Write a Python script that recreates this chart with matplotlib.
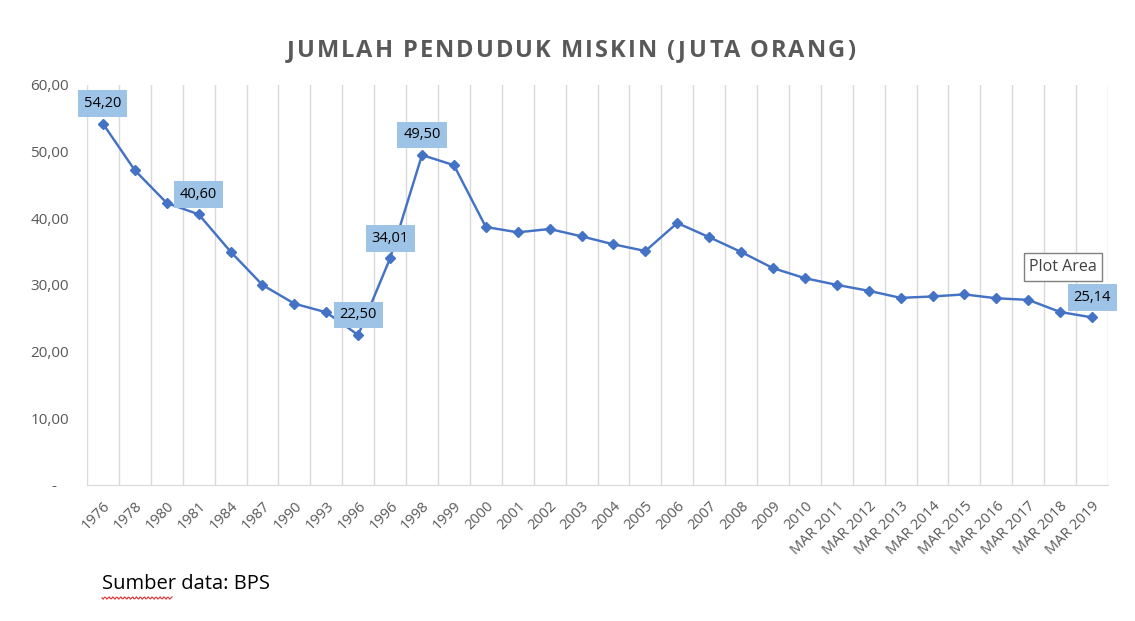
import matplotlib.pyplot as plt
import numpy as np

plt.rcParams['font.family'] = ['Open Sans', 'DejaVu Sans']

# data (BPS, juta orang)
years = ['1976', '1978', '1980', '1981', '1984', '1987', '1990', '1993', '1996', '1996',
         '1998', '1999', '2000', '2001', '2002', '2003', '2004', '2005', '2006', '2007',
         '2008', '2009', '2010', 'MAR 2011', 'MAR 2012', 'MAR 2013', 'MAR 2014',
         'MAR 2015', 'MAR 2016', 'MAR 2017', 'MAR 2018', 'MAR 2019']
miskin = [54.20, 47.20, 42.30, 40.60, 35.00, 30.00, 27.20, 25.90, 22.50, 34.01,
          49.50, 47.97, 38.70, 37.90, 38.40, 37.30, 36.10, 35.10, 39.30, 37.17,
          34.96, 32.53, 31.02, 30.02, 29.13, 28.07, 28.28, 28.59, 28.01, 27.77,
          25.95, 25.14]
labelled = [0, 3, 8, 9, 10, 31]

yticks = [0, 10, 20, 30, 40, 50, 60]
ytick_labels = ['-   ', '10,00', '20,00', '30,00', '40,00', '50,00', '60,00']

title = 'JUMLAH PENDUDUK MISKIN (JUTA ORANG)'

gray = '#595959'
blue = '#4472C4'

fig = plt.figure(figsize=(11.35, 6.21), dpi=100)
ax = fig.add_axes([87/1135, 1 - 485/621, (1108 - 87)/1135, 400/621])

x = np.arange(len(years))
ax.plot(x, miskin, color=blue, lw=1.75, marker='D', ms=5.5, zorder=3)

for i in labelled:
    ax.annotate(f'{miskin[i]:.2f}'.replace('.', ','), (x[i], miskin[i]),
                xytext=(0, 9), textcoords='offset points', ha='center', va='bottom',
                fontsize=10.5, color='black', zorder=4,
                bbox=dict(boxstyle='square,pad=0.4', fc='#9DC3E6', ec='none'))

ax.set_xlim(-0.5, len(years) - 0.5)
ax.set_ylim(0, 60)
ax.set_xticks(x)
ax.set_xticklabels(years, rotation=45, ha='right', rotation_mode='anchor',
                   fontsize=10.5, color=gray)
ax.set_xticks(np.arange(-0.5, len(years)), minor=True)
ax.set_yticks(yticks)
ax.set_yticklabels(ytick_labels, fontsize=11, color=gray)
ax.tick_params(axis='both', which='both', length=0)
ax.tick_params(axis='y', pad=13)
ax.tick_params(axis='x', pad=10)
ax.grid(which='minor', axis='x', color='#D9D9D9', lw=1)
ax.grid(which='major', visible=False)
for s in ['top', 'right', 'left']:
    ax.spines[s].set_visible(False)
ax.spines['bottom'].set_color('#D9D9D9')

# title with letter spacing, drawn char by char
renderer = fig.canvas.get_renderer()
tkw = dict(fontsize=17, fontweight='bold', color=gray, va='center')

def text_w(s):
    t = fig.text(0, 0, s + 'x', **tkw)
    w = t.get_window_extent(renderer).width
    t.remove()
    t = fig.text(0, 0, 'x', **tkw)
    w -= t.get_window_extent(renderer).width
    t.remove()
    return w

natural = text_w(title)
target_w = 568
spacing = (target_w - natural) / (len(title) - 1)
x0 = 571 - target_w / 2
for k, ch in enumerate(title):
    px = x0 + text_w(title[:k]) + k * spacing
    fig.text(px / 1135, 1 - 51/621, ch, ha='left', **tkw)

# tooltip from the screenshot
fig.text(1063/1135, 1 - 267/621, 'Plot Area', ha='center', va='center', fontsize=11.5,
         color='#404040',
         bbox=dict(boxstyle='square,pad=0.35', fc='white', ec='#808080', lw=1))

fig.text(102/1135, 1 - 584/621, 'Sumber data: BPS', ha='left', va='center',
         fontsize=14.5, color='black')
# spellcheck squiggle under "Sumber"
wx = np.linspace(102, 172, 60)
wy = 598 + 1.2 * np.sin(wx * 1.6)
fig.add_artist(plt.Line2D(wx / 1135, 1 - wy / 621, color='#E03030', lw=0.8))

fig.savefig('out.png', dpi=100)
